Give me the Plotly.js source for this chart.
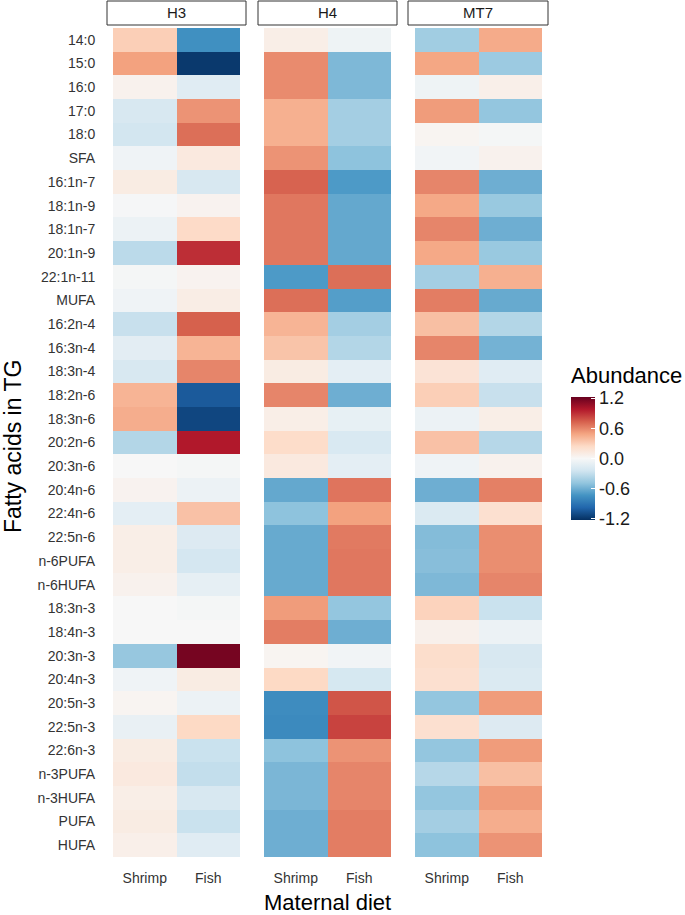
<!DOCTYPE html>
<html>
<head>
<meta charset="utf-8">
<script src="https://cdn.plot.ly/plotly-3.0.1.min.js"></script>
<style>html,body{margin:0;padding:0;background:#fff;}#chart{width:685px;height:915px;}</style>
</head>
<body>
<div id="chart"></div>
<script>
// ---- Data ----
const fattyAcids = ['14:0','15:0','16:0','17:0','18:0','SFA','16:1n-7','18:1n-9','18:1n-7','20:1n-9','22:1n-11','MUFA',
  '16:2n-4','16:3n-4','18:3n-4','18:2n-6','18:3n-6','20:2n-6','20:3n-6','20:4n-6','22:4n-6','22:5n-6','n-6PUFA','n-6HUFA',
  '18:3n-3','18:4n-3','20:3n-3','20:4n-3','20:5n-3','22:5n-3','22:6n-3','n-3PUFA','n-3HUFA','PUFA','HUFA'];
const dietGroups = ['Shrimp','Fish'];
const panels = ['H3','H4','MT7'];

const h3Shrimp = [0.30,0.50,0.05,-0.20,-0.23,-0.05,0.10,-0.01,-0.07,-0.33,-0.02,-0.05,
  -0.28,-0.13,-0.20,0.42,0.45,-0.36,0.00,0.04,-0.12,0.08,0.08,0.05,
  0.00,0.00,-0.47,-0.05,0.03,-0.09,0.10,0.12,0.08,0.10,0.07];
const h3Fish = [-0.75,-1.18,-0.15,0.55,0.68,0.12,-0.20,0.04,0.24,0.90,0.04,0.09,
  0.73,0.42,0.60,-1.03,-1.12,0.98,-0.02,-0.07,0.36,-0.17,-0.22,-0.11,
  -0.02,0.00,1.17,0.10,-0.07,0.25,-0.27,-0.30,-0.20,-0.27,-0.15];

const h4Shrimp = [0.08,0.58,0.58,0.44,0.44,0.55,0.72,0.65,0.65,0.65,-0.70,0.68,
  0.42,0.35,0.10,0.60,0.08,0.23,0.12,-0.63,-0.50,-0.62,-0.62,-0.62,
  0.52,0.63,0.03,0.25,-0.77,-0.78,-0.50,-0.56,-0.56,-0.60,-0.60];
const h4Fish = [-0.06,-0.55,-0.55,-0.42,-0.42,-0.50,-0.70,-0.63,-0.63,-0.63,0.68,-0.68,
  -0.42,-0.36,-0.12,-0.60,-0.10,-0.19,-0.12,0.66,0.50,0.64,0.65,0.65,
  -0.48,-0.60,-0.04,-0.21,0.77,0.83,0.55,0.60,0.60,0.63,0.63];

const mt7Shrimp = [-0.43,0.48,-0.06,0.52,0.03,-0.04,0.60,0.47,0.60,0.47,-0.42,0.63,
  0.37,0.60,0.17,0.30,-0.07,0.36,-0.05,-0.60,-0.18,-0.53,-0.52,-0.55,
  0.28,0.06,0.22,0.20,-0.48,0.20,-0.48,-0.35,-0.48,-0.42,-0.50];
const mt7Fish = [0.46,-0.45,0.07,-0.48,-0.02,0.05,-0.60,-0.46,-0.60,-0.46,0.44,-0.62,
  -0.36,-0.58,-0.15,-0.28,0.08,-0.35,0.05,0.62,0.20,0.57,0.57,0.60,
  -0.27,-0.07,-0.20,-0.18,0.52,-0.17,0.52,0.37,0.52,0.45,0.55];

const legendTicks = [-1.2,-0.6,0,0.6,1.2];
const legendTickText = ['-1.2','-0.6','0.0','0.6','1.2'];

// ---- Build ----
const W = 685, H = 915;
const px = v => v / W;
const py = v => 1 - v / H;

const rdbu = [[0,'#053061'],[0.1,'#2166ac'],[0.2,'#4393c3'],[0.3,'#92c5de'],[0.4,'#d1e5f0'],
  [0.5,'#f7f7f7'],[0.6,'#fddbc7'],[0.7,'#f4a582'],[0.8,'#d6604d'],[0.9,'#b2182b'],[1,'#67001f']];

const seriesPairs = [[h3Shrimp,h3Fish],[h4Shrimp,h4Fish],[mt7Shrimp,mt7Fish]];
const xDomains = [[113,240],[264,391],[415,542]];
const stripBoxes = [[107,246],[258,397],[408,548]];
const yDom = [py(857), py(28)];
const font = 'Liberation Sans, Arial, sans-serif';

const traces = seriesPairs.map((pair, k) => ({
  type: 'heatmap',
  x: dietGroups,
  y: fattyAcids,
  z: fattyAcids.map((_, i) => [pair[0][i], pair[1][i]]),
  xaxis: k === 0 ? 'x' : 'x' + (k + 1),
  yaxis: k === 0 ? 'y' : 'y' + (k + 1),
  colorscale: rdbu,
  zmin: -1.22, zmax: 1.22,
  showscale: k === 0,
  colorbar: k === 0 ? {
    x: px(571), xanchor: 'left',
    y: py(458.5), yanchor: 'middle',
    len: 123 / H, lenmode: 'fraction',
    thickness: 24, thicknessmode: 'pixels',
    outlinewidth: 0,
    tickvals: legendTicks, ticktext: legendTickText,
    ticks: 'inside', ticklen: 4, tickcolor: '#ffffff', tickwidth: 1,
    tickfont: {family: font, size: 18, color: '#1a1a1a'},
    xpad: 0, ypad: 0
  } : undefined
}));

const layout = {
  width: W, height: H,
  margin: {l: 0, r: 0, t: 0, b: 0, pad: 0},
  paper_bgcolor: '#ffffff', plot_bgcolor: '#ffffff',
  showlegend: false,
  shapes: [], annotations: []
};

xDomains.forEach((d, k) => {
  const xa = k === 0 ? 'xaxis' : 'xaxis' + (k + 1);
  const ya = k === 0 ? 'yaxis' : 'yaxis' + (k + 1);
  const yref = k === 0 ? 'y' : 'y' + (k + 1);
  layout[xa] = {
    domain: [px(d[0]), px(d[1])], anchor: yref,
    type: 'category', categoryorder: 'array', categoryarray: dietGroups,
    showgrid: false, zeroline: false, showline: false,
    ticks: 'outside', ticklen: 8, tickcolor: 'rgba(0,0,0,0)',
    tickfont: {family: font, size: 14, color: '#333333'},
    fixedrange: true
  };
  layout[ya] = {
    domain: yDom, anchor: k === 0 ? 'x' : 'x' + (k + 1),
    type: 'category', categoryorder: 'array', categoryarray: fattyAcids,
    autorange: 'reversed',
    showgrid: false, zeroline: false, showline: false,
    showticklabels: k === 0,
    ticks: k === 0 ? 'outside' : '', ticklen: 14, tickcolor: 'rgba(0,0,0,0)',
    tickfont: {family: font, size: 14, color: '#333333'},
    fixedrange: true
  };
  const s = stripBoxes[k];
  layout.shapes.push({
    type: 'rect', xref: 'paper', yref: 'paper',
    x0: px(s[0]), x1: px(s[1]), y0: py(25), y1: py(1),
    line: {color: '#333333', width: 1}, fillcolor: '#ffffff'
  });
  layout.annotations.push({
    xref: 'paper', yref: 'paper', x: px((s[0] + s[1]) / 2), y: py(13),
    text: panels[k], showarrow: false, xanchor: 'center', yanchor: 'middle',
    font: {family: font, size: 15, color: '#1a1a1a'}
  });
});

layout.annotations.push({
  xref: 'paper', yref: 'paper', x: px(327.5), y: py(902),
  text: 'Maternal diet', showarrow: false, xanchor: 'center', yanchor: 'middle',
  font: {family: font, size: 22, color: '#000000'}
});
layout.annotations.push({
  xref: 'paper', yref: 'paper', x: px(13), y: py(447),
  text: 'Fatty acids in TG', showarrow: false, textangle: -90,
  xanchor: 'center', yanchor: 'middle',
  font: {family: font, size: 23, color: '#000000'}
});
layout.annotations.push({
  xref: 'paper', yref: 'paper', x: px(569), y: py(376),
  text: 'Abundance', showarrow: false, xanchor: 'left', yanchor: 'middle',
  font: {family: font, size: 22, color: '#000000'}
});

Plotly.newPlot('chart', traces, layout, {displayModeBar: false, staticPlot: true});
</script>
</body>
</html>
